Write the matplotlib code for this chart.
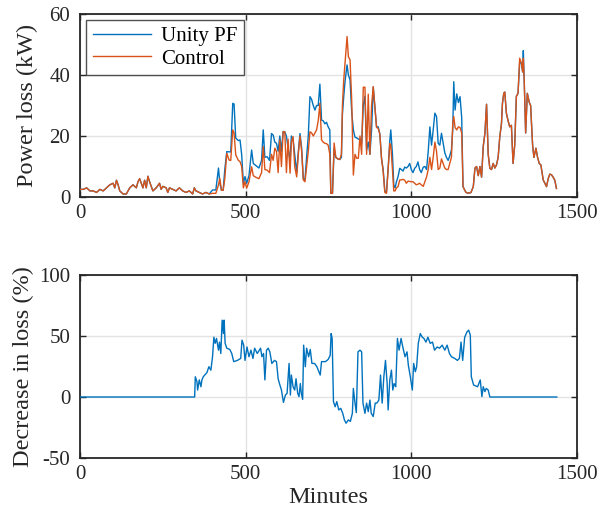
import matplotlib
matplotlib.use("Agg")
import matplotlib.pyplot as plt

plt.rcParams['font.family'] = ['Liberation Serif', 'DejaVu Serif']
plt.rcParams['axes.unicode_minus'] = False

# ---------------- Top panel data (minutes, kW) ----------------
t_top = [0, 10, 20, 30, 40, 50, 60, 70, 80, 90,
         100, 105, 110, 115, 120, 130, 140, 150, 160, 170,
         175, 180, 185, 190, 195, 200, 205, 210, 215, 220,
         230, 240, 245, 250, 260, 265, 270, 280, 290, 300,
         310, 320, 330, 340, 345, 350, 360, 370, 380, 390,
         400, 410, 418, 422, 427, 432, 437, 443, 450, 455,
         461, 465, 470, 478, 483, 488, 493, 498, 503, 510,
         518, 523, 530, 540, 548, 553, 558, 565, 572, 578,
         583, 588, 593, 598, 603, 608, 613, 618, 623, 628,
         634, 638, 643, 648, 654, 659, 664, 669, 674, 679,
         684, 689, 694, 699, 704, 709, 714, 719, 724, 729,
         734, 739, 744, 749, 754, 757, 762, 767, 772, 778,
         784, 789, 792, 796, 800, 806, 810, 815, 820, 825,
         830, 835, 840, 845, 850, 855, 860, 865, 870, 875,
         880, 885, 890, 895, 900, 905, 910, 915, 920, 925,
         930, 935, 938, 943, 947, 951, 955, 960, 965, 970,
         975, 980, 985, 990, 995, 1000, 1005, 1010, 1015, 1020,
         1025, 1030, 1036, 1041, 1046, 1051, 1056, 1061, 1066, 1071,
         1076, 1081, 1086, 1091, 1096, 1101, 1106, 1111, 1116, 1121,
         1125, 1128, 1132, 1137, 1142, 1147, 1152, 1156, 1160, 1165,
         1170, 1175, 1180, 1187, 1192, 1197, 1202, 1207, 1212, 1217,
         1222, 1227, 1232, 1237, 1242, 1247, 1252, 1257, 1262, 1267,
         1272, 1275, 1279, 1282, 1287, 1292, 1297, 1302, 1307, 1312,
         1317, 1322, 1327, 1332, 1336, 1338, 1341, 1345, 1350, 1356,
         1360, 1366, 1370, 1376, 1381, 1386, 1391, 1398, 1403, 1408,
         1413, 1418, 1423, 1428, 1433, 1438]

unity_pf = [2.5, 2.5, 3, 2, 2, 1.5, 2.5, 2, 3, 4,
            4.5, 3, 5.5, 4, 2, 1, 1, 3, 4, 3,
            5, 6, 4.5, 3, 5.5, 3, 6.8, 5, 3.5, 2,
            3, 4.5, 2.5, 3.5, 3, 1.5, 3, 2.5, 2, 3,
            2, 1.5, 2, 1, 3, 2, 1.5, 1, 1.5, 1,
            2.3, 2.3, 9.5, 4.5, 2.2, 2.2, 9, 14.9, 14.8, 14.8,
            30.7, 30.5, 19.3, 18.5, 18.7, 13.8, 4.5, 6.7, 4.5, 7,
            15.4, 11, 10.4, 9.5, 12, 22, 13, 13.2, 12, 20.8,
            20.3, 18, 17.6, 15, 20, 15, 21.5, 21.4, 20, 16,
            12, 20, 19, 14, 8, 15, 20.8, 16, 6, 5.6,
            13.2, 20, 32.9, 32, 30, 28.5, 30, 30, 37, 25.2,
            25, 24, 24.5, 23, 22, 1.2, 1.2, 16, 13, 12.5,
            12.3, 13, 27, 33, 38, 43.3, 40, 38.4, 28, 22,
            19.6, 19.4, 19, 18.8, 17.5, 30, 33, 15.4, 18, 14,
            22, 36, 29.6, 23, 23, 20.6, 12.7, 9, 2, 1.5,
            9.4, 18.5, 22, 14, 4, 3, 5, 6.7, 9.4, 9,
            8.5, 9.8, 9.5, 10, 11, 9, 8, 9.4, 10, 11.5,
            9, 8, 9.8, 10, 9, 15, 23, 17, 22, 27.5,
            26.4, 17.6, 17, 20.9, 17.6, 14.5, 13, 12, 13.5, 15.4,
            22, 37.8, 28.5, 33.8, 31, 32.9, 26, 3.4, 2.5, 1.5,
            1.3, 1.3, 1.5, 3.4, 9.5, 10, 7, 10, 6.5, 16.6,
            20.8, 30.4, 14, 9.4, 9, 11, 9.5, 10.5, 13, 19.8,
            24, 30.7, 34, 34.4, 27.4, 25, 23, 23.5, 11, 17,
            33, 34, 44, 44, 41, 48, 37, 21, 34, 31,
            30, 17, 13, 16, 13, 11, 10.5, 5.6, 4.5, 3.4,
            6, 7.5, 7.3, 6.5, 5.5, 2.8]

control = [2.5, 2.5, 3, 2, 2, 1.5, 2.5, 2, 3, 4,
           4.5, 3, 5.5, 4, 2, 1, 1, 3, 4, 3,
           5, 6, 4.5, 3, 5.5, 3, 6.8, 5, 3.5, 2,
           3, 4.5, 2.5, 3.5, 3, 1.5, 3, 2.5, 2, 3,
           2, 1.5, 2, 1, 3, 2, 1.5, 1, 1.5, 1,
           1.2, 1.2, 4, 6.1, 2.2, 2.2, 6, 14.3, 12.1, 12,
           22, 21, 13.8, 12, 11.6, 10, 3, 5, 2.9, 5,
           9.9, 7, 6.5, 6, 8, 16.5, 9, 8.8, 8, 14,
           12, 16, 15, 8, 18.7, 10, 21.4, 21.4, 8, 19,
           7.8, 18, 19.8, 10, 6.6, 14, 20, 15, 5.6, 5,
           10, 15, 21.4, 21, 20, 21, 22, 25, 30.7, 18.7,
           18, 17.6, 17.5, 17, 14, 1.2, 1.2, 17.7, 13, 12.5,
           12.3, 14, 30, 38.4, 44, 52.6, 46, 45, 31.8, 7.2,
           14, 12.7, 12.7, 20, 14, 36, 36, 14, 33.7, 14,
           30, 36.2, 29.6, 22.8, 22.5, 20.6, 12.7, 8.3, 1.5, 1.2,
           9, 17.5, 17, 9, 2, 2, 3, 3.4, 5.6, 5.6,
           5.8, 5.5, 4.5, 5.2, 5.1, 5, 5, 4.5, 4, 4.2,
           4.5, 4, 3.5, 5, 6.6, 9, 13, 9, 13, 18,
           15, 9, 9.5, 12.5, 11, 9.5, 9, 9, 11, 13,
           24, 26.4, 22.8, 22, 23, 22.8, 21, 3.4, 2.5, 1.5,
           1.3, 1.3, 1.5, 3.4, 9.5, 10, 7, 10, 6.5, 16.6,
           20.8, 30.4, 14, 9.4, 9, 11, 9.5, 10.5, 13, 19.8,
           24, 30.7, 34, 34.4, 27.4, 25, 23, 23.5, 11, 17,
           33, 34, 45.5, 44, 41, 45.5, 37, 21, 34, 31,
           30, 17, 13, 16, 13, 11, 10.5, 5.6, 4.5, 3.4,
           6, 7.5, 7.3, 6.5, 5.5, 2.8]

# ---------------- Bottom panel data (minutes, %) ----------------
t_dec = [0, 346, 348, 353, 355, 360, 365, 368, 372, 383,
         389, 395, 400, 404, 408, 412, 418, 421, 425, 429,
         433, 435, 438, 443, 452, 458, 464, 475, 485, 489,
         494, 498, 504, 510, 516, 522, 527, 535, 545, 549,
         554, 558, 563, 568, 573, 579, 587, 593, 598, 602,
         608, 614, 620, 625, 631, 635, 638, 643, 648, 652,
         657, 661, 665, 668, 672, 675, 680, 684, 690, 695,
         700, 708, 715, 725, 729, 741, 749, 755, 758, 761,
         765, 770, 775, 781, 787, 793, 798, 803, 810, 816,
         822, 825, 830, 834, 839, 845, 850, 854, 860, 865,
         870, 875, 879, 885, 891, 896, 902, 907, 912, 917,
         922, 927, 930, 935, 940, 944, 948, 953, 958, 963,
         969, 975, 981, 987, 991, 997, 1003, 1007, 1012, 1016,
         1021, 1027, 1033, 1038, 1044, 1050, 1057, 1064, 1070, 1078,
         1085, 1093, 1101, 1108, 1115, 1121, 1131, 1139, 1145, 1150,
         1155, 1161, 1168, 1173, 1178, 1181, 1188, 1200, 1208, 1213,
         1217, 1222, 1226, 1232, 1237, 1439]

decrease = [0, 0, 16.6, 12.5, 5.7, 14, 8.4, 14, 16.6, 20,
            24.8, 22, 33, 49, 44, 48, 38.4, 45, 35.7, 63,
            52, 63, 44, 40, 39, 35.7, 29, 30, 31.6, 46.6,
            42.5, 30, 41, 33, 38.4, 31.6, 40, 35.7, 40, 33,
            35.7, 14, 38.4, 40, 37, 27.5, 30, 29, 15, 11,
            5.7, -4.4, 1.6, 3, 27.5, 1.6, 18, 8.4, 5.7, 15,
            3, 0.3, 11, 3, -2, 42.5, 24.8, 40, 33, 39,
            27.5, 27.5, 24.8, 18, 29, 29, 30.8, 34, 52, 48,
            -3.8, -8, -3.8, -10.6, -9.3, -13.4, -18.8, -21.5, -18.8, -20,
            -13.4, 7, -5, -12.8, 37, 38.4, 37, -5, -13.4, -5,
            -12, -2.5, -13.4, -16, -5, -5, -2.5, 18, -5, 16.6,
            30, 11, -10.6, 14, 22, 5.7, 11, 8.4, 48, 38.4,
            48, 40, 33, 37, 26, 16.6, 5.7, 27.5, 20.7, 24.8,
            44, 52, 49, 48, 45, 49, 44, 45, 38.4, 41,
            40, 42.5, 38.4, 42.5, 35.7, 33, 31.6, 30, 31.6, 45,
            30, 49, 53.4, 54.8, 50.7, 16.6, 9.8, 8.4, 14, 0.3,
            8.4, 4.4, 7, 5.7, 0, 0]

x_ticks = [0, 500, 1000, 1500]
top_yticks = [0, 20, 40, 60]
bot_yticks = [-50, 0, 50, 100]
series_labels = ["Unity PF", "Control"]

BLUE = "#0072BD"
ORANGE = "#D95319"
FRAME = "#262626"

fig = plt.figure(figsize=(6.01, 5.22), dpi=100)
ax1 = fig.add_axes([80 / 601, 1 - 197 / 522, 497 / 601, 183 / 522])
ax2 = fig.add_axes([80 / 601, 1 - 458 / 522, 497 / 601, 183 / 522])

ax1.plot(t_top, unity_pf, color=BLUE, lw=1.0, label=series_labels[0], zorder=3)
ax1.plot(t_top, control, color=ORANGE, lw=1.0, label=series_labels[1], zorder=4)
ax2.plot(t_dec, decrease, color=BLUE, lw=1.0, zorder=3)

for ax, yt in ((ax1, top_yticks), (ax2, bot_yticks)):
    ax.set_xlim(0, 1500)
    ax.set_ylim(yt[0], yt[-1])
    ax.set_xticks(x_ticks)
    ax.set_yticks(yt)
    ax.grid(True, color="#e3e3e3", lw=1.0, zorder=0)
    ax.set_axisbelow(True)
    ax.tick_params(direction="in", top=True, right=True, length=4.5, width=1.0,
                   color=FRAME, labelsize=15, labelcolor=FRAME)
    ax.tick_params(axis="y", pad=7)
    ax.tick_params(axis="x", pad=5)
    for s in ax.spines.values():
        s.set_color(FRAME)
        s.set_linewidth(1.3)

ax1.set_ylabel("Power loss (kW)", fontsize=17.5, color=FRAME, labelpad=8)
ax2.set_ylabel("Decrease in loss (%)", fontsize=17.5, color=FRAME, labelpad=4)
ax2.set_xlabel("Minutes", fontsize=17.5, color=FRAME, labelpad=2)

leg = ax1.legend(loc="upper left", fontsize=15, frameon=True, fancybox=False,
                 edgecolor=FRAME, borderaxespad=0.3, handlelength=2.8,
                 borderpad=0.3, labelspacing=0.15, handletextpad=0.5)
leg.get_frame().set_linewidth(1.0)

fig.savefig("out.png", dpi=100)
